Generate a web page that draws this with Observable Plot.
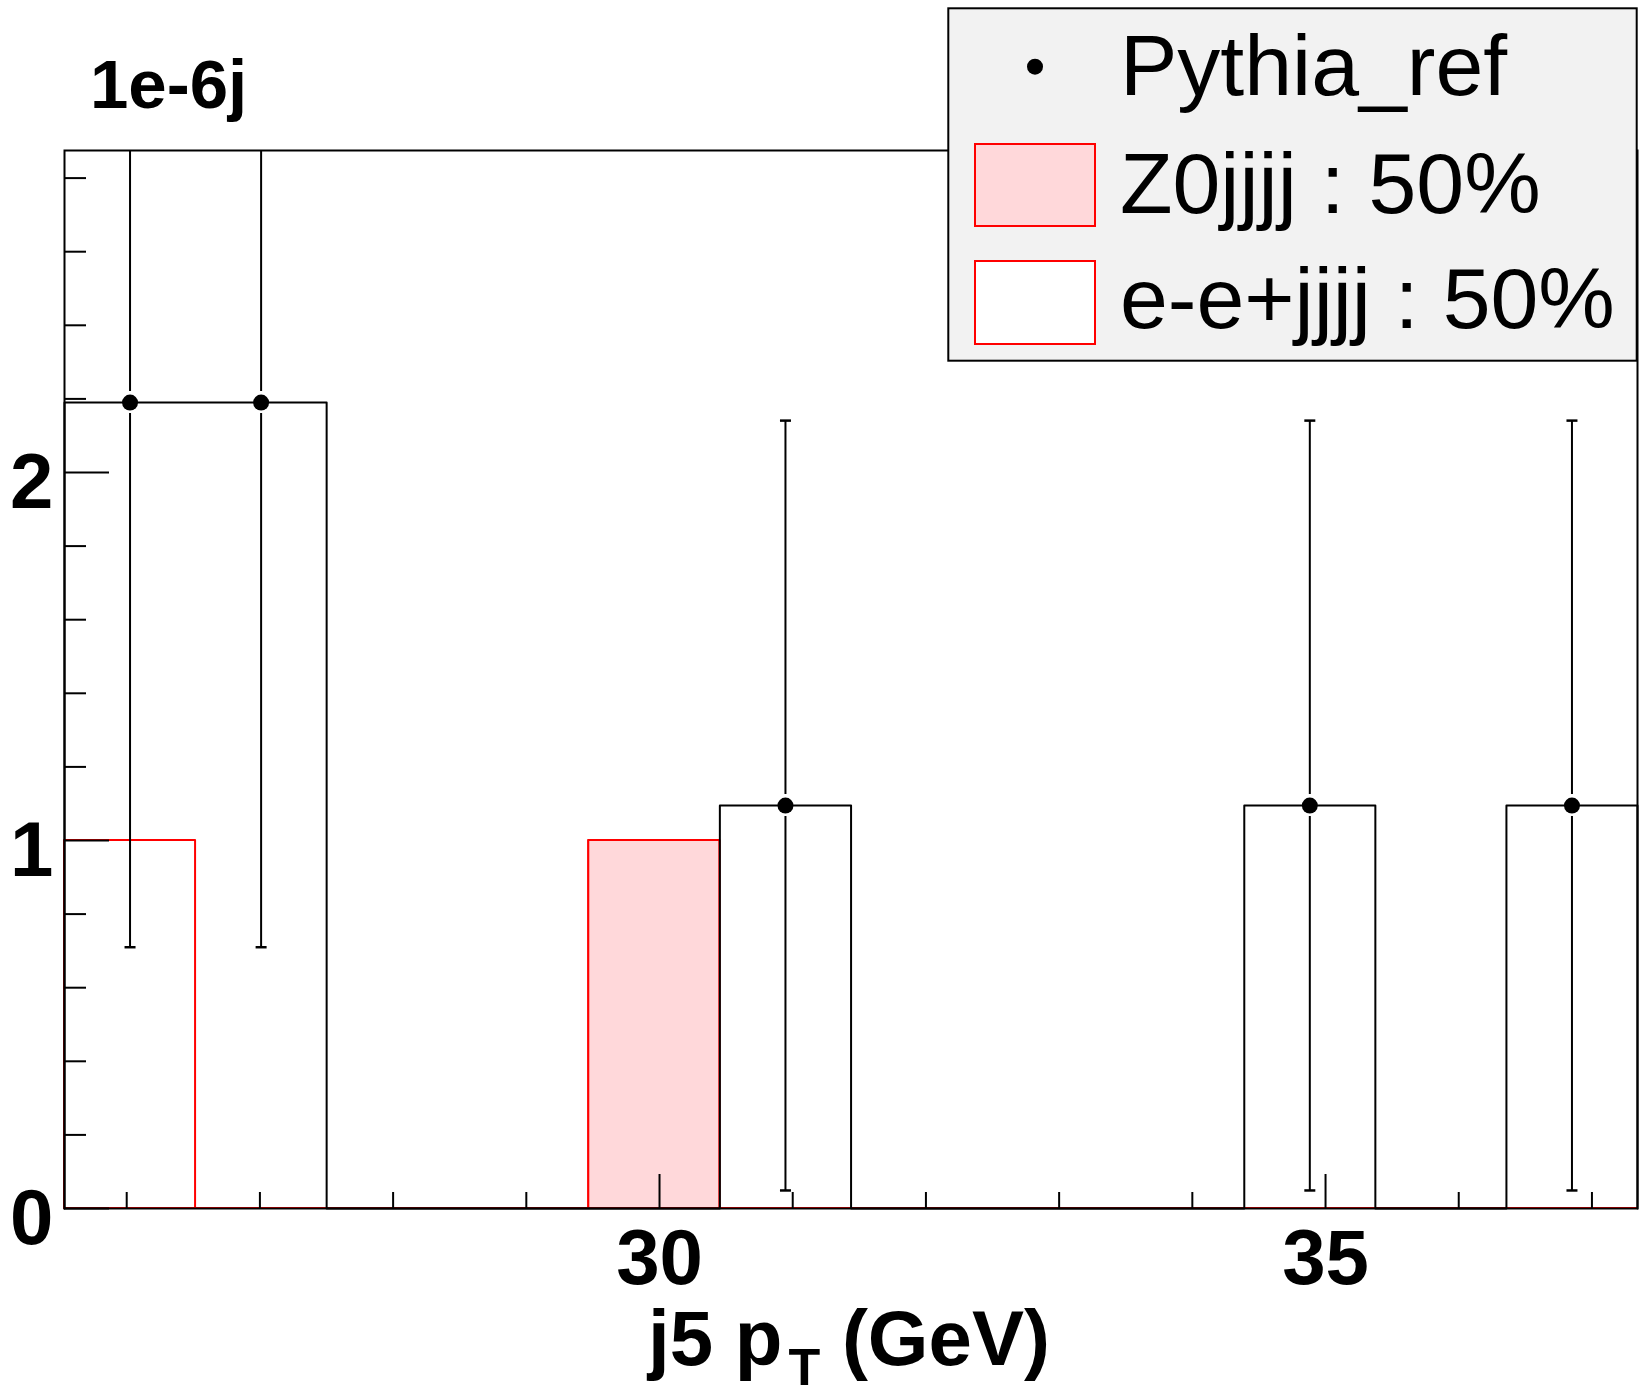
<!DOCTYPE html>
<html><head><meta charset="utf-8">
<script src="https://cdn.jsdelivr.net/npm/d3@7"></script>
<script src="https://cdn.jsdelivr.net/npm/@observablehq/plot@0.6"></script>
<style>
html,body{margin:0;padding:0;background:#fff;overflow:hidden;}
#wrap{position:relative;width:1649px;height:1400px;}
#legend{position:absolute;left:0;top:0;pointer-events:none;}
</style></head><body><div id="wrap"></div>
<script>
// ---- data (y in units of 1e-6) ----
const binEdges = [25.533, 26.517, 27.501, 28.485, 29.469, 30.453, 31.438, 32.422, 33.406, 34.390, 35.374, 36.358, 37.342];
const pythiaRef = [2.19, 2.19, 0, 0, 0, 1.095, 0, 0, 0, 1.095, 0, 1.095];
const pythiaErr = [1.48, 1.48, 0, 0, 0, 1.046, 0, 0, 0, 1.046, 0, 1.046];
const z0jjjj = [0, 0, 0, 0, 1.0, 0, 0, 0, 0, 0, 0, 0];
const eejjjj = [1.0, 0, 0, 0, 0, 0, 0, 0, 0, 0, 0, 0];
const yMax = 2.875;
const xTickLabels = [30, 35];
const xMinorTicks = [26, 27, 28, 29, 31, 32, 33, 34, 36, 37];
const yTickLabels = [0, 1, 2];
const yMinorTicks = [0.2, 0.4, 0.6, 0.8, 1.2, 1.4, 1.6, 1.8, 2.2, 2.4, 2.6, 2.8];
const legendLabels = ["Pythia_ref", "Z0jjjj : 50%", "e-e+jjjj : 50%"];
const exponentLabel = "1e-6j";
const xTitleParts = ["j5 p", "T", " (GeV)"];

const pink = "rgb(255,216,218)";
const font = "'Liberation Sans', Arial, Helvetica, sans-serif";

const bins = pythiaRef.map((v, i) => ({mid: (binEdges[i] + binEdges[i + 1]) / 2, v, err: pythiaErr[i]}));
const pts = bins.filter(d => d.v > 0);
const steps = vals => [
  {x: binEdges[0], y: 0},
  ...vals.map((v, i) => ({x: binEdges[i], y: v})),
  {x: binEdges[vals.length], y: vals[vals.length - 1]},
  {x: binEdges[vals.length], y: 0}
];
const stackTotal = z0jjjj.map((v, i) => v + eejjjj[i]);
const capSymbol = {draw(ctx) { ctx.moveTo(-5.5, 0); ctx.lineTo(5.5, 0); }};
const intFmt = d => `${d}`;

const chart = Plot.plot({
  width: 1649, height: 1400,
  marginTop: 150, marginBottom: 192, marginLeft: 64, marginRight: 12,
  style: {fontFamily: font, background: "white", color: "black"},
  x: {domain: [binEdges[0], binEdges[binEdges.length - 1]], label: null},
  y: {domain: [0, yMax], label: null},
  marks: [
    Plot.areaY(steps(stackTotal), {x: "x", y: "y", curve: "step-after", fill: "white", stroke: "red", strokeWidth: 2}),
    Plot.areaY(steps(z0jjjj), {x: "x", y: "y", curve: "step-after", fill: pink, stroke: "red", strokeWidth: 2}),
    Plot.line(steps(pythiaRef), {x: "x", y: "y", curve: "step-after", stroke: "black", strokeWidth: 2}),
    Plot.ruleX(pts, {x: "mid", y1: d => d.v + d.err, y2: "v", insetBottom: 11, stroke: "black", strokeWidth: 2, clip: true}),
    Plot.ruleX(pts, {x: "mid", y1: "v", y2: d => d.v - d.err, insetTop: 11, stroke: "black", strokeWidth: 2, clip: true}),
    Plot.dot(pts, {x: "mid", y: d => d.v + d.err, symbol: capSymbol, fill: "none", stroke: "black", strokeWidth: 2.5, clip: true}),
    Plot.dot(pts, {x: "mid", y: d => d.v - d.err, symbol: capSymbol, fill: "none", stroke: "black", strokeWidth: 2.5, clip: true}),
    Plot.dot(pts, {x: "mid", y: "v", r: 8, fill: "black"}),
    Plot.axisX({ticks: xMinorTicks, tickSize: -16, fill: "none", strokeWidth: 2, label: null}),
    Plot.axisX({ticks: xTickLabels, tickSize: -34, fill: "none", strokeWidth: 2, label: null}),
    Plot.axisX({ticks: xTickLabels, tickFormat: intFmt, tickSize: 0, tickPadding: 20, fontSize: 78, fontWeight: "bold", fill: "black", label: null}),
    Plot.axisY({ticks: yMinorTicks, tickSize: -22, fill: "none", strokeWidth: 2, label: null}),
    Plot.axisY({ticks: yTickLabels, tickSize: -45, fill: "none", strokeWidth: 2, label: null}),
    Plot.axisY({ticks: yTickLabels, tickFormat: intFmt, tickSize: 0, tickPadding: 11, dy: 11, fontSize: 78, fontWeight: "bold", fill: "black", label: null}),
    Plot.frame({stroke: "black", strokeWidth: 2})
  ]
});

const svg = d3.select(chart);
svg.append("text").attr("x", 90).attr("y", 108).attr("text-anchor", "start")
  .attr("font-size", 69).attr("font-weight", "bold").attr("fill", "black").text(exponentLabel);
const title = svg.append("text").attr("x", 849).attr("y", 1365).attr("text-anchor", "middle")
  .attr("font-size", 78).attr("font-weight", "bold").attr("fill", "black");
title.append("tspan").text(xTitleParts[0]);
title.append("tspan").attr("font-size", 52).attr("dy", 20).attr("dx", 6).text(xTitleParts[1]);
title.append("tspan").attr("dy", -20).text(xTitleParts[2]);

const wrap = document.getElementById("wrap");
wrap.appendChild(chart);

// legend overlay (top right, over the frame)
const lg = d3.select(wrap).append("svg").attr("id", "legend").attr("width", 1649).attr("height", 380)
  .style("font-family", font);
lg.append("rect").attr("x", 948.3).attr("y", 8.3).attr("width", 688.4).attr("height", 352.4)
  .attr("fill", "#f2f2f2").attr("stroke", "black").attr("stroke-width", 2);
lg.append("circle").attr("cx", 1035).attr("cy", 66.7).attr("r", 8).attr("fill", "black");
lg.append("rect").attr("x", 975).attr("y", 144).attr("width", 120).attr("height", 82)
  .attr("fill", pink).attr("stroke", "red").attr("stroke-width", 2);
lg.append("rect").attr("x", 975).attr("y", 261).attr("width", 120).attr("height", 83)
  .attr("fill", "white").attr("stroke", "red").attr("stroke-width", 2);
const baselines = [95, 213.3, 328.3];
legendLabels.forEach((s, i) => {
  lg.append("text").attr("x", 1120).attr("y", baselines[i]).attr("font-size", 86)
    .attr("fill", "black").text(s);
});
</script></body></html>
